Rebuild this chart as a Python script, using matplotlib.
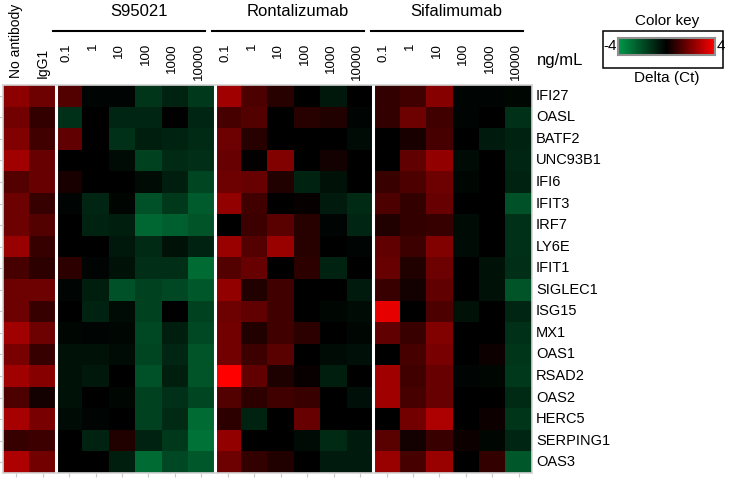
import numpy as np
import matplotlib
matplotlib.use("Agg")
import matplotlib.pyplot as plt
import matplotlib.transforms as mtransforms
from matplotlib.colors import LinearSegmentedColormap
from matplotlib.patches import Rectangle

plt.rcParams['font.family'] = ['Liberation Sans', 'DejaVu Sans']

genes = ["IFI27", "OASL", "BATF2", "UNC93B1", "IFI6", "IFIT3", "IRF7", "LY6E",
         "IFIT1", "SIGLEC1", "ISG15", "MX1", "OAS1", "RSAD2", "OAS2", "HERC5",
         "SERPING1", "OAS3"]
controls = ["No antibody", "IgG1"]
drugs = ["S95021", "Rontalizumab", "Sifalimumab"]
doses = ["0.1", "1", "10", "100", "1000", "10000"]

# delta Ct, one value per gene
no_antibody = [2.2, 1.8, 2.0, 2.5, 1.3, 1.7, 1.7, 2.4, 1.1, 1.7, 1.7, 2.5, 1.9, 2.5, 1.2, 2.6, 0.85, 2.7]
igg1 = [1.7, 0.8, 1.0, 1.6, 1.6, 0.85, 1.3, 0.85, 0.7, 1.7, 0.85, 1.7, 0.85, 2.1, 0.3, 1.9, 0.95, 1.8]

# one row per gene, columns = doses
s95021 = [
    [1.3, -0.1, -0.1, -1.4, -0.9, -1.5],
    [-1.3, 0.0, -1.0, -1.0, -0.05, -1.0],
    [1.5, 0.0, -1.3, -0.8, -0.9, -1.1],
    [0.0, 0.0, -0.3, -1.7, -1.1, -1.2],
    [0.4, 0.0, 0.0, -0.3, -0.8, -1.8],
    [-0.1, -1.0, -0.15, -2.1, -1.5, -2.4],
    [0.0, -0.9, -0.8, -2.7, -2.5, -2.2],
    [0.0, 0.0, -0.6, -1.1, -0.5, -0.9],
    [0.7, -0.1, -0.5, -1.2, -1.2, -2.8],
    [-0.1, -0.8, -2.1, -1.7, -1.9, -2.3],
    [0.0, -0.9, -0.3, -1.7, 0.0, -1.7],
    [-0.2, -0.1, -0.2, -1.9, -0.8, -1.9],
    [-0.5, -0.5, -0.3, -1.8, -1.0, -2.2],
    [-0.5, -0.6, 0.0, -2.1, -0.8, -2.2],
    [-0.5, 0.0, -0.2, -1.7, -1.3, -1.8],
    [-0.3, -0.1, 0.0, -1.7, -1.1, -2.8],
    [0.0, -0.9, 0.5, -0.9, -1.5, -3.0],
    [0.0, 0.0, -0.8, -2.8, -1.9, -2.3],
]
rontalizumab = [
    [2.5, 1.2, 0.6, 0.0, -0.6, 0.0],
    [1.1, 1.3, 0.0, 0.6, 0.5, -0.1],
    [1.7, 0.6, 0.0, 0.0, 0.0, -0.3],
    [1.6, 0.05, 2.0, 0.0, 0.3, 0.0],
    [1.7, 1.6, 0.5, -0.9, -0.5, 0.0],
    [2.3, 1.0, 0.0, 0.1, -0.7, -1.1],
    [0.0, 0.95, 1.4, 0.6, -0.1, -1.0],
    [2.4, 1.3, 2.4, 0.6, 0.0, -0.1],
    [1.3, 1.6, 0.0, 0.7, -0.9, 0.0],
    [2.3, 0.5, 1.0, 0.0, 0.0, -0.7],
    [1.7, 1.5, 1.0, 0.0, -0.2, -0.3],
    [1.8, 0.5, 1.0, 0.7, 0.0, -0.2],
    [1.8, 0.95, 1.4, 0.0, -0.3, -0.4],
    [4.0, 1.5, 0.45, 0.15, -0.8, 0.0],
    [1.3, 0.7, 1.0, 0.9, 0.0, -0.4],
    [0.7, -0.9, 0.0, 1.6, 0.0, 0.0],
    [2.3, 0.0, 0.0, -0.3, -1.1, -0.7],
    [1.7, 0.8, 0.5, 0.0, -0.7, -0.7],
]
sifalimumab = [
    [0.8, 1.0, 2.1, -0.1, -0.1, -0.2],
    [0.8, 1.7, 1.0, -0.1, 0.0, -1.3],
    [0.0, 0.4, 1.1, 0.0, -0.7, -0.9],
    [0.0, 1.5, 2.3, -0.3, 0.0, -1.0],
    [0.9, 1.2, 1.7, -0.2, 0.0, -0.9],
    [1.2, 0.8, 1.6, 0.0, 0.0, -2.1],
    [0.5, 0.8, 0.85, -0.3, 0.0, -1.3],
    [1.5, 0.95, 2.0, -0.3, 0.0, -1.3],
    [1.6, 0.5, 1.7, 0.0, -0.5, -1.2],
    [0.9, 0.3, 1.5, 0.0, -0.5, -2.2],
    [3.6, 0.0, 1.2, -0.5, 0.0, -1.0],
    [1.5, 0.9, 2.0, 0.0, 0.0, -1.3],
    [0.0, 1.1, 1.9, 0.0, 0.2, -1.4],
    [2.5, 1.0, 1.6, -0.1, -0.2, -1.5],
    [2.5, 1.1, 1.6, 0.0, 0.0, -1.1],
    [0.0, 1.8, 2.7, 0.0, 0.2, -1.4],
    [1.4, 0.3, 0.9, 0.2, -0.2, -1.0],
    [2.4, 1.1, 2.4, 0.0, 0.8, -2.3],
]

delta = np.column_stack([no_antibody, igg1, np.array(s95021),
                         np.array(rontalizumab), np.array(sifalimumab)])
n_rows, n_cols = delta.shape

greenred = LinearSegmentedColormap.from_list(
    "greenred", [(0.0, 0.6, 0.29), (0.0, 0.0, 0.0), (1.0, 0.0, 0.0)])

W, H = 733, 480
fig = plt.figure(figsize=(W / 100, H / 100), dpi=100)
ax = fig.add_axes([3 / W, 1 - 473 / H, 529 / W, 388 / H])
ax.imshow(delta, cmap=greenred, vmin=-4, vmax=4, aspect="auto", interpolation="nearest")

# white gaps between the blocks
for b in [1.5, 7.5, 13.5]:
    ax.axvline(b, color="white", lw=2.2)
for s in ax.spines.values():
    s.set_color("#d4d4d4")
    s.set_linewidth(1.2)

ax.set_xticks(range(n_cols))
ax.set_yticks(range(n_rows))
ax.set_xticklabels([])
ax.set_yticklabels([])
ax.tick_params(color="#c8c8c8", length=3, width=0.8)

# gene names on the right
ytr = ax.get_yaxis_transform()
for i, g in enumerate(genes):
    ax.text(1 + 4 / 529, i, g, transform=ytr, ha="left", va="center", fontsize=10.5)

# column headers
bt = mtransforms.blended_transform_factory(ax.transData, fig.transFigure)
for j, c in enumerate(controls):
    fig.text(j, 1 - 78 / H, c, transform=bt, rotation=90, ha="center", va="bottom", fontsize=10)
for k, d in enumerate(drugs):
    start = 2 + 6 * k
    for j, dose in enumerate(doses):
        fig.text(start + j - 0.1, 1 - 43 / H, dose, transform=bt, rotation=90,
                 ha="center", va="top", fontsize=9.5)
    ax.plot([start - 0.6, start + 5.15], [1 - 30.5 / H] * 2, transform=bt,
            color="black", lw=1.5, clip_on=False)
    fig.text(start + 2.65, 1 - 12 / H, d, transform=bt, ha="center", va="center", fontsize=12)

fig.text(537 / W, 1 - 60 / H, "ng/mL", ha="left", va="center", fontsize=12)

# colour key
fig.patches.append(Rectangle((603 / W, 1 - 68 / H), 120 / W, 37 / H, transform=fig.transFigure,
                             fill=False, edgecolor="black", lw=1.1))
kax = fig.add_axes([618 / W, 1 - 55 / H, 97 / W, 17 / H])
kax.imshow(np.linspace(-4, 4, 256)[None, :], cmap=greenred, vmin=-4, vmax=4, aspect="auto")
kax.set_xticks([])
kax.set_yticks([])
for s in kax.spines.values():
    s.set_color("#909090")
    s.set_linewidth(1.5)
fig.text(603 / W, 1 - 46.5 / H, "-4", ha="left", va="center", fontsize=11)
fig.text(717 / W, 1 - 46.5 / H, "4", ha="left", va="center", fontsize=11)
fig.text(667 / W, 1 - 21 / H, "Color key", ha="center", va="center", fontsize=11)
fig.text(667 / W, 1 - 78 / H, "Delta (Ct)", ha="center", va="center", fontsize=11)

fig.savefig("out.png", dpi=100)
